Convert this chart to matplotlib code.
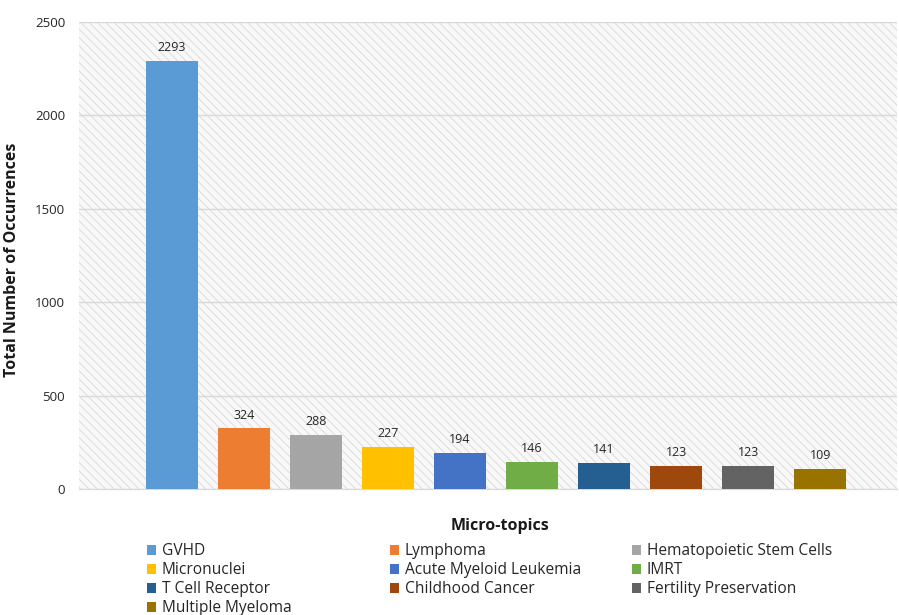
import matplotlib.pyplot as plt
import matplotlib
from matplotlib.patches import Rectangle, Patch
import numpy as np

topics = ['GVHD', 'Lymphoma', 'Hematopoietic Stem Cells', 'Micronuclei',
          'Acute Myeloid Leukemia', 'IMRT', 'T Cell Receptor',
          'Childhood Cancer', 'Fertility Preservation', 'Multiple Myeloma']
counts = [2293, 324, 288, 227, 194, 146, 141, 123, 123, 109]
colors = ['#5B9BD5', '#ED7D31', '#A5A5A5', '#FFC000', '#4472C4',
          '#70AD47', '#255E91', '#9E480E', '#636363', '#997300']
yticks = [0, 500, 1000, 1500, 2000, 2500]

matplotlib.rcParams.update({'font.family': 'Open Sans', 'hatch.linewidth': 0.6})

fig = plt.figure(figsize=(8.99, 6.15), dpi=100)
ax = fig.add_axes([0.088, 0.205, 0.910, 0.759])

# shaded plot background with diagonal hatching
ax.patch.set_visible(False)
bg = Rectangle((0, 0), 1, 1, transform=ax.transAxes, facecolor='#f8f8f8',
               edgecolor='#d8d8d8', hatch='\\\\\\\\', linewidth=0, zorder=0)
ax.add_patch(bg)

x = np.arange(len(topics))
ax.bar(x, counts, width=0.72, color=colors, zorder=3)
for xi, c in zip(x, counts):
    ax.annotate(str(c), (xi, c), xytext=(0, 9.5), textcoords='offset points',
                ha='center', va='center', fontsize=9, color='#262626', zorder=4)

ax.set_xlim(-1.29, 10.07)
ax.set_ylim(0, 2500)
ax.set_yticks(yticks)
ax.set_xticks([])
ax.tick_params(axis='y', length=0, labelsize=9.5, labelcolor='#262626', pad=10)
ax.grid(axis='y', color='#d9d9d9', linewidth=1, zorder=1)
for side in ['top', 'right', 'left']:
    ax.spines[side].set_visible(False)
ax.spines['bottom'].set_color('#d9d9d9')
ax.spines['bottom'].set_zorder(2)

ax.set_xlabel('Micro-topics', fontsize=11.5, fontweight='bold', color='#1a1a1a')
ax.xaxis.set_label_coords(0.515, -0.062)
ax.set_ylabel('Total Number of Occurrences', fontsize=11.5, fontweight='bold',
              color='#1a1a1a')
ax.yaxis.set_label_coords(-0.072, 0.49)

# legend laid out row by row in three columns
col_x = [147 / 899, 390 / 899, 632 / 899]
for k, x0 in enumerate(col_x):
    idx = list(range(k, len(topics), 3))
    handles = [Patch(facecolor=colors[i], label=topics[i]) for i in idx]
    fig.legend(handles=handles, loc='upper left', bbox_to_anchor=(x0, 0.117),
               frameon=False, fontsize=11.2, handlelength=0.6,
               handleheight=0.6, handletextpad=0.35, labelspacing=0.2,
               borderaxespad=0, borderpad=0, labelcolor='#262626')

fig.savefig('out.png', dpi=100)
